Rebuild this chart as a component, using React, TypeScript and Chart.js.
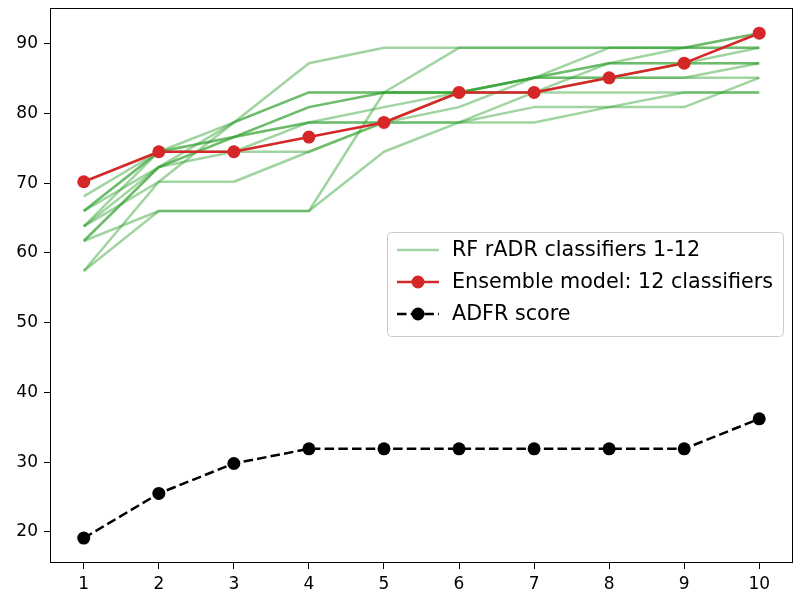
import { useEffect, useRef } from 'react';
import { Chart, registerables } from 'chart.js';

Chart.register(...registerables);

const positions = [1, 2, 3, 4, 5, 6, 7, 8, 9, 10];
const ensembleScores = [70.2, 74.5, 74.5, 76.6, 78.7, 83.0, 83.0, 85.1, 87.2, 91.5];
const adfrScores = [19.1, 25.5, 29.8, 31.9, 31.9, 31.9, 31.9, 31.9, 31.9, 36.2];

const rf1 = [61.7, 72.3, 78.7, 87.2, 89.4, 89.4, 89.4, 89.4, 89.4, 91.5];
const rf2 = [57.4, 70.2, 78.7, 83.0, 83.0, 83.0, 85.1, 89.4, 89.4, 89.4];
const rf3 = [63.8, 74.5, 78.7, 83.0, 83.0, 83.0, 85.1, 87.2, 87.2, 87.2];
const rf4 = [63.8, 72.3, 76.6, 80.9, 83.0, 83.0, 85.1, 85.1, 85.1, 87.2];
const rf5 = [61.7, 66.0, 66.0, 66.0, 83.0, 89.4, 89.4, 89.4, 89.4, 89.4];
const rf6 = [66.0, 74.5, 76.6, 78.7, 78.7, 78.7, 80.9, 80.9, 83.0, 83.0];
const rf7 = [68.1, 74.5, 74.5, 78.7, 78.7, 78.7, 78.7, 80.9, 80.9, 85.1];
const rf8 = [63.8, 70.2, 70.2, 74.5, 78.7, 80.9, 85.1, 85.1, 85.1, 85.1];
const rf9 = [57.4, 66.0, 66.0, 66.0, 74.5, 78.7, 83.0, 83.0, 83.0, 83.0];
const rf10 = [66.0, 72.3, 74.5, 74.5, 78.7, 83.0, 83.0, 87.2, 87.2, 87.2];
const rf11 = [61.7, 72.3, 76.6, 78.7, 80.9, 83.0, 85.1, 87.2, 89.4, 91.5];
const rf12 = [66.0, 74.5, 76.6, 80.9, 83.0, 83.0, 83.0, 85.1, 87.2, 89.4];
const rfSeries = [rf1, rf2, rf3, rf4, rf5, rf6, rf7, rf8, rf9, rf10, rf11, rf12];

const xTicks = [1, 2, 3, 4, 5, 6, 7, 8, 9, 10];
const yTicks = [20, 30, 40, 50, 60, 70, 80, 90];

const labelRF = 'RF rADR classifiers 1-12';
const labelEnsemble = 'Ensemble model: 12 classifiers';
const labelADFR = 'ADFR score';

const GREEN = 'rgba(44,160,44,0.45)';
const RED = '#d62728';
const FONT = "'DejaVu Sans', sans-serif";

const toPoints = (vals: number[]) => vals.map((v, i) => ({ x: positions[i], y: v }));

const framePlugin = {
  id: 'frame',
  afterDatasetsDraw(chart: any) {
    const { ctx, chartArea } = chart;
    const { left, top, right, bottom } = chartArea;
    ctx.save();
    ctx.strokeStyle = '#000';
    ctx.lineWidth = 1;
    ctx.strokeRect(Math.round(left) + 0.5, Math.round(top) + 0.5, Math.round(right - left) - 1, Math.round(bottom - top) - 1);
    ctx.restore();
  },
};

const legendPlugin = {
  id: 'customLegend',
  afterDraw(chart: any) {
    const { ctx } = chart;
    const x0 = 387, y0 = 232, w = 396, h = 104;
    ctx.save();
    ctx.beginPath();
    ctx.roundRect(x0 + 0.5, y0 + 0.5, w, h, 4);
    ctx.fillStyle = 'rgba(255,255,255,0.8)';
    ctx.fill();
    ctx.strokeStyle = '#cccccc';
    ctx.lineWidth = 1;
    ctx.stroke();

    const ds = chart.data.datasets;
    const entries = [
      { d: ds.find((d: any) => d.label === labelRF), y: 250 },
      { d: ds.find((d: any) => d.label === labelEnsemble), y: 282 },
      { d: ds.find((d: any) => d.label === labelADFR), y: 314 },
    ];
    for (const e of entries) {
      if (!e.d) continue;
      ctx.beginPath();
      ctx.strokeStyle = e.d.borderColor;
      ctx.lineWidth = e.d.borderWidth;
      ctx.setLineDash(e.d.borderDash || []);
      ctx.moveTo(397, e.y);
      ctx.lineTo(439, e.y);
      ctx.stroke();
      ctx.setLineDash([]);
      if (e.d.pointRadius > 0) {
        ctx.beginPath();
        ctx.fillStyle = e.d.pointBackgroundColor;
        ctx.arc(418, e.y, e.d.pointRadius, 0, Math.PI * 2);
        ctx.fill();
      }
      ctx.fillStyle = '#000';
      ctx.font = `20.7px ${FONT}`;
      ctx.textBaseline = 'middle';
      ctx.textAlign = 'left';
      ctx.fillText(e.d.label, 452, e.y + 1);
    }
    ctx.restore();
  },
};

export default function App() {
  const canvasRef = useRef<HTMLCanvasElement | null>(null);

  useEffect(() => {
    const canvas = canvasRef.current;
    if (!canvas) return;

    const greenSets = rfSeries.map((s, i) => ({
      label: i === 0 ? labelRF : `RF rADR classifier ${i + 1}`,
      data: toPoints(s),
      borderColor: GREEN,
      backgroundColor: GREEN,
      borderWidth: 2.5,
      pointRadius: 0,
      tension: 0,
    }));

    const chart = new Chart(canvas, {
      type: 'line',
      data: {
        datasets: [
          {
            label: labelADFR,
            data: toPoints(adfrScores),
            borderColor: '#000',
            backgroundColor: '#000',
            pointBackgroundColor: '#000',
            pointBorderWidth: 0,
            borderWidth: 2.5,
            borderDash: [9.5, 4.2],
            pointRadius: 6.5,
            tension: 0,
          } as any,
          {
            label: labelEnsemble,
            data: toPoints(ensembleScores),
            borderColor: RED,
            backgroundColor: RED,
            pointBackgroundColor: RED,
            pointBorderWidth: 0,
            borderWidth: 2.6,
            pointRadius: 6.5,
            tension: 0,
          },
          ...greenSets,
        ],
      },
      options: {
        responsive: false,
        animation: false,
        devicePixelRatio: 1,
        layout: { padding: { left: 0, right: 10, top: 8, bottom: 0 } },
        plugins: {
          legend: { display: false },
          tooltip: { enabled: false },
        },
        elements: { line: { borderCapStyle: 'butt', borderJoinStyle: 'round' } },
        scales: {
          x: {
            type: 'linear',
            min: 0.55,
            max: 10.45,
            afterBuildTicks: (s: any) => {
              s.ticks = xTicks.map((v) => ({ value: v }));
            },
            afterFit: (s: any) => {
              s.height = 37;
              s.paddingLeft = 0;
              s.paddingRight = 0;
            },
            grid: { display: true, drawOnChartArea: false, drawTicks: true, tickLength: 6, color: '#000', lineWidth: 1 },
            border: { display: false },
            ticks: { color: '#000', font: { family: FONT, size: 17 }, padding: 5, maxRotation: 0, autoSkip: false },
          },
          y: {
            type: 'linear',
            min: 15.53,
            max: 95.11,
            afterBuildTicks: (s: any) => {
              s.ticks = yTicks.map((v) => ({ value: v }));
            },
            afterFit: (s: any) => {
              s.width = 50;
              s.paddingTop = 0;
              s.paddingBottom = 0;
            },
            grid: { display: true, drawOnChartArea: false, drawTicks: true, tickLength: 6, color: '#000', lineWidth: 1 },
            border: { display: false },
            ticks: { color: '#000', font: { family: FONT, size: 17 }, padding: 6, autoSkip: false },
          },
        },
      },
      plugins: [framePlugin, legendPlugin],
    });

    return () => chart.destroy();
  }, []);

  return (
    <div style={{ position: 'absolute', left: 0, top: 0, width: 803, height: 600, background: '#fff' }}>
      <canvas ref={canvasRef} width={803} height={600} style={{ display: 'block' }} />
    </div>
  );
}
